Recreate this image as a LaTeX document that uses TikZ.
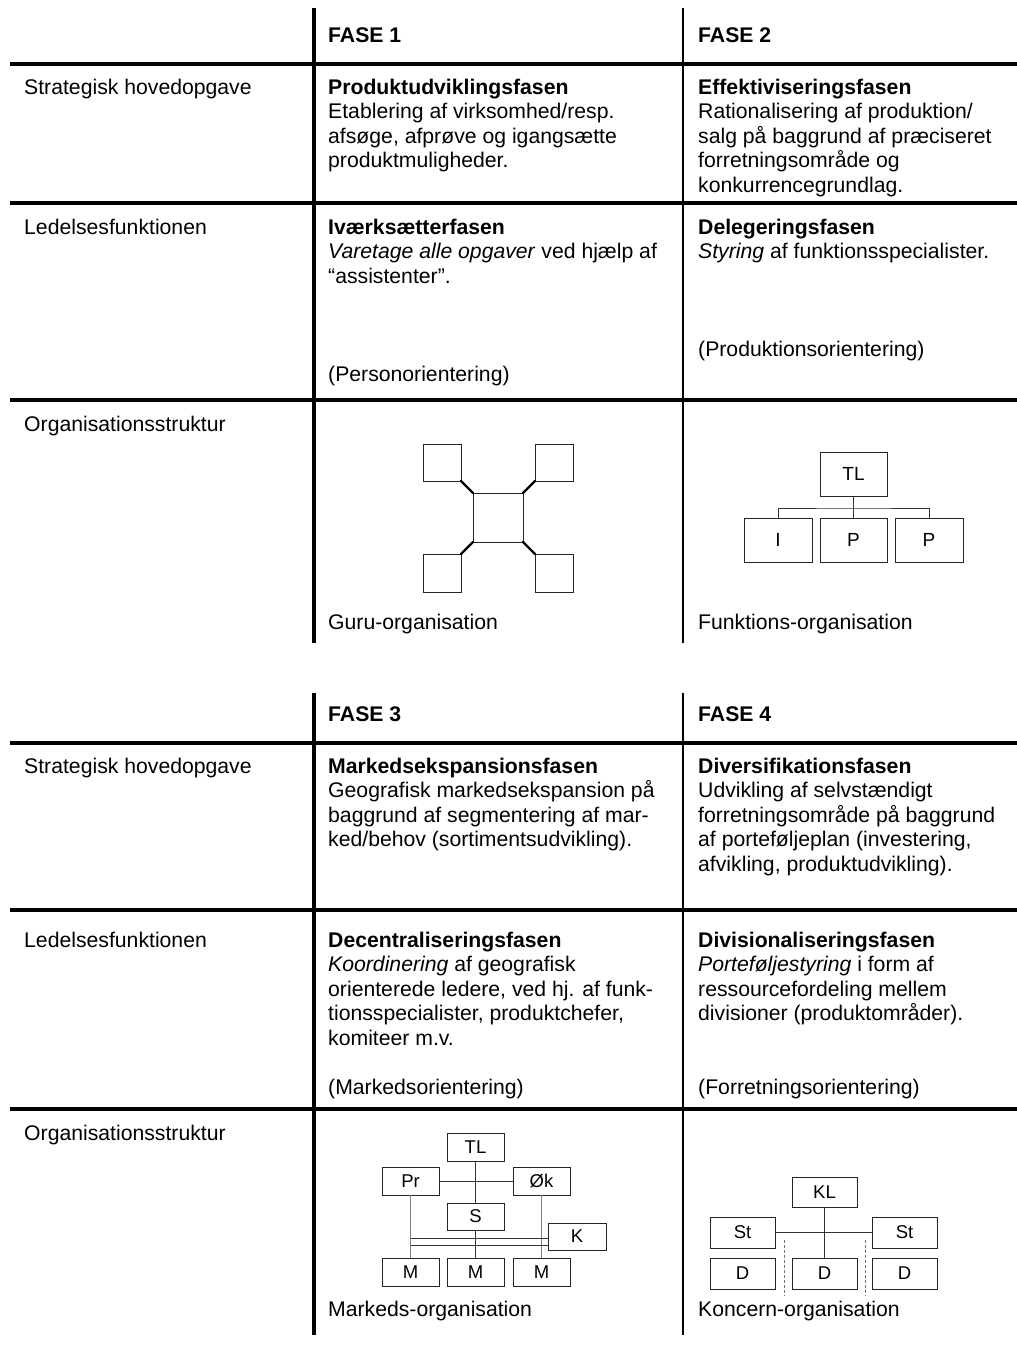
\documentclass[tikz,border=0pt]{standalone}
\usepackage{fontspec}
\setmainfont{Liberation Sans}
\begin{document}
\begin{tikzpicture}[x=1pt,y=-1pt,
  bodyfont/.style={font=\fontsize{21.2}{24.5}\selectfont},
  headfont/.style={font=\fontsize{21.2}{24.5}\selectfont\bfseries},
  lbl/.style={anchor=base west, inner sep=0pt, bodyfont},
  cell/.style={anchor=north west, inner sep=0pt, align=left, bodyfont},
  rulethick/.style={line width=4.5pt},
  rulethin/.style={line width=2pt},
  sq/.style={draw=black!85, line width=0.9pt, inner sep=0pt, outer sep=0pt},
  box/.style={draw=black!85, line width=0.9pt, inner sep=0pt, outer sep=0pt, font=\fontsize{18.5}{20}\selectfont},
  smallbox/.style={box, font=\fontsize{19}{20}\selectfont},
  gurulink/.style={line width=2.4pt, line cap=round},
  wire/.style={draw=black!80, line width=0.9pt},
  faintwire/.style={draw=black!50, line width=0.7pt},
  divider/.style={draw=black!55, line width=0.7pt, dash pattern=on 3pt off 2pt},
]
\useasboundingbox (0,0) rectangle (1017,1347);

% ---------- table 1: rules ----------
\draw[rulethick] (314,8) -- (314,643);
\draw[rulethin] (683,8) -- (683,643);
\draw[rulethick] (10,64) -- (1017,64);
\draw[rulethick] (10,203) -- (1017,203);
\draw[rulethick] (10,400) -- (1017,400);

% headers
\node[lbl, headfont] (h1) at (328,42) {FASE 1};
\node[lbl, headfont] (h2) at (698,42) {FASE 2};

% row labels
\node[lbl] (r1a) at (24,94) {Strategisk hovedopgave};
\node[lbl] (r1b) at (24,234) {Ledelsesfunktionen};
\node[lbl] (r1c) at (24,431) {Organisationsstruktur};

% cells
\node[cell] (c11) at (328,76.85) {\strut\textbf{Produktudviklingsfasen}\\
  Etablering af virksomhed/resp.\\
  afsøge, afprøve og igangsætte\\
  produktmuligheder.};
\node[cell] (c12) at (698,76.85) {\strut\textbf{Effektiviseringsfasen}\\
  Rationalisering af produktion/\\
  salg på baggrund af præciseret\\
  forretningsområde og\\
  konkurrencegrundlag.};
\node[cell] (c21) at (328,216.85) {\strut\textbf{Iværksætterfasen}\\
  \textit{Varetage alle opgaver} ved hjælp af\\
  “assistenter”.\\ \strut\\ \strut\\ \strut\\
  (Personorientering)};
\node[cell] (c22) at (698,216.85) {\strut\textbf{Delegeringsfasen}\\
  \textit{Styring} af funktionsspecialister.\\ \strut\\ \strut\\ \strut\\
  (Produktionsorientering)};

% guru organisation
\node[sq, minimum width=38pt, minimum height=37pt] (gtl) at (442,462.5) {};
\node[sq, minimum width=38pt, minimum height=37pt] (gtr) at (554,462.5) {};
\node[sq, minimum width=50pt, minimum height=49pt] (gc) at (498,517.5) {};
\node[sq, minimum width=38pt, minimum height=38pt] (gbl) at (442,573) {};
\node[sq, minimum width=38pt, minimum height=38pt] (gbr) at (554,573) {};
\draw[gurulink] (gtl.south east) -- (gc.north west);
\draw[gurulink] (gtr.south west) -- (gc.north east);
\draw[gurulink] (gbl.north east) -- (gc.south west);
\draw[gurulink] (gbr.north west) -- (gc.south east);
\node[lbl] (cap1) at (328,629) {Guru-organisation};

% function organisation
\node[smallbox, minimum width=67pt, minimum height=44pt] (ftl) at (853.5,474) {TL};
\node[smallbox, minimum width=68pt, minimum height=44pt] (fi) at (778,540) {I};
\node[smallbox, minimum width=67pt, minimum height=44pt] (fp1) at (853.5,540) {P};
\node[smallbox, minimum width=68pt, minimum height=44pt] (fp2) at (929,540) {P};
\coordinate (fbus) at (853.5,508);
\draw[wire] (ftl.south) -- (fp1.north);
\draw[wire] (fi.north) |- (fbus) -| (fp2.north);
\node[lbl] (cap2) at (698,629) {Funktions-organisation};

% ---------- table 2: rules ----------
\draw[rulethick] (314,693) -- (314,1335);
\draw[rulethin] (683,693) -- (683,1335);
\draw[rulethick] (10,743) -- (1017,743);
\draw[rulethick] (10,910) -- (1017,910);
\draw[rulethick] (10,1109) -- (1017,1109);

\node[lbl, headfont] (h3) at (328,721) {FASE 3};
\node[lbl, headfont] (h4) at (698,721) {FASE 4};

\node[lbl] (r2a) at (24,773) {Strategisk hovedopgave};
\node[lbl] (r2b) at (24,947) {Ledelsesfunktionen};
\node[lbl] (r2c) at (24,1140) {Organisationsstruktur};

\node[cell] (c31) at (328,755.85) {\strut\textbf{Markedsekspansionsfasen}\\
  Geografisk markedsekspansion på\\
  baggrund af segmentering af mar-\\
  ked/behov (sortimentsudvikling).};
\node[cell] (c32) at (698,755.85) {\strut\textbf{Diversifikationsfasen}\\
  Udvikling af selvstændigt\\
  forretningsområde på baggrund\\
  af porteføljeplan (investering,\\
  afvikling, produktudvikling).};
\node[cell] (c41) at (328,929.85) {\strut\textbf{Decentraliseringsfasen}\\
  \textit{Koordinering} af geografisk\\
  orienterede ledere, ved hj. af funk-\\
  tionsspecialister, produktchefer,\\
  komiteer m.v.\\ \strut\\
  (Markedsorientering)};
\node[cell] (c42) at (698,929.85) {\strut\textbf{Divisionaliseringsfasen}\\
  \textit{Porteføljestyring} i form af\\
  ressourcefordeling mellem\\
  divisioner (produktområder).\\ \strut\\ \strut\\
  (Forretningsorientering)};

% market organisation
\node[box, minimum width=57pt, minimum height=28pt] (mtl) at (475.5,1147) {TL};
\node[box, minimum width=57pt, minimum height=28pt] (mpr) at (410.5,1181) {Pr};
\node[box, minimum width=57pt, minimum height=28pt] (mok) at (541.5,1181) {Øk};
\node[box, minimum width=57pt, minimum height=27pt] (ms) at (475.5,1216.5) {S};
\node[box, minimum width=58pt, minimum height=27pt] (mk) at (577,1236.5) {K};
\node[box, minimum width=57pt, minimum height=28pt] (mm1) at (410.5,1272) {M};
\node[box, minimum width=57pt, minimum height=28pt] (mm2) at (475.5,1272) {M};
\node[box, minimum width=57pt, minimum height=28pt] (mm3) at (541.5,1272) {M};
\draw[wire] (mtl.south) -- (ms.north);
\draw[wire] (ms.south) -- (mm2.north);
\draw[wire] (mpr.east) -- (mok.west);
\draw[faintwire] (mpr.south) -- (mm1.north);
\draw[faintwire] (mok.south) -- (mm3.north);
\coordinate (mrail1) at (410.5,1238);
\coordinate (mrail2) at (410.5,1245);
\draw[wire] (mrail1) -- (mrail1 -| mk.west);
\draw[wire] (mrail2) -- (mrail2 -| mk.west);
\node[lbl] (cap3) at (328,1316) {Markeds-organisation};

% group organisation
\node[box, minimum width=65pt, minimum height=30pt] (kkl) at (824.5,1192) {KL};
\node[box, minimum width=65pt, minimum height=31pt] (kst1) at (742.5,1232.5) {St};
\node[box, minimum width=65pt, minimum height=31pt] (kst2) at (904.5,1232.5) {St};
\node[box, minimum width=65pt, minimum height=31pt] (kd1) at (742.5,1273.5) {D};
\node[box, minimum width=65pt, minimum height=31pt] (kd2) at (824.5,1273.5) {D};
\node[box, minimum width=65pt, minimum height=31pt] (kd3) at (904.5,1273.5) {D};
\draw[wire] (kkl.south) -- (kd2.north);
\draw[wire] (kst1.east) -- (kst2.west);
\coordinate (kdv1) at (784,1240);
\coordinate (kdv2) at (865,1240);
\draw[divider] (kdv1) -- ++(0,56);
\draw[divider] (kdv2) -- ++(0,56);
\node[lbl] (cap4) at (698,1316) {Koncern-organisation};
\end{tikzpicture}
\end{document}
